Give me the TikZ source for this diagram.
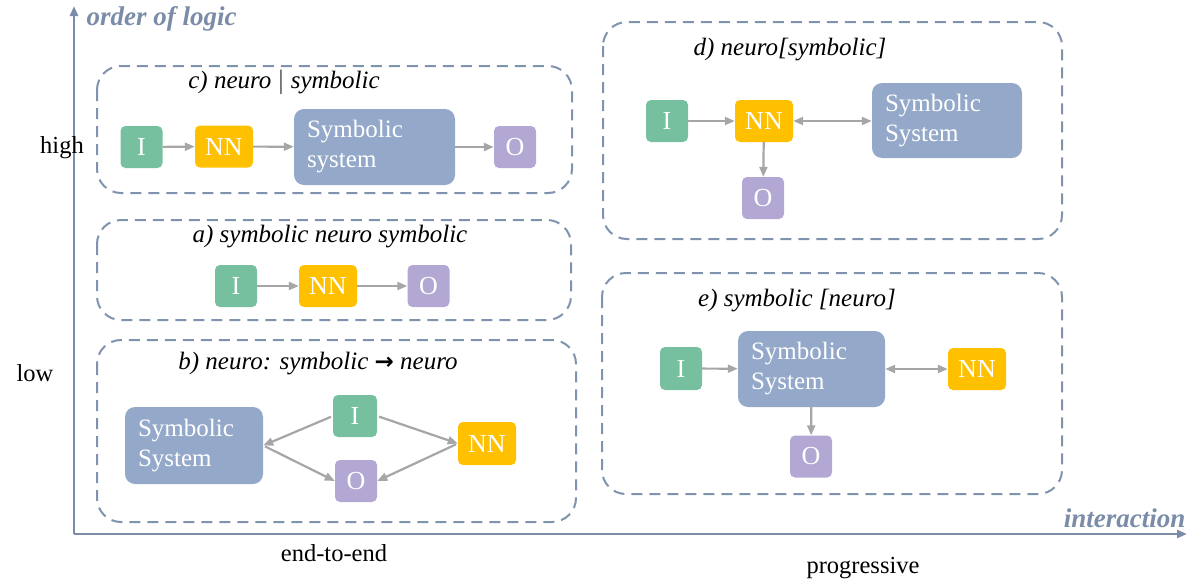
\documentclass[tikz,border=0pt]{standalone}
\usepackage{fontspec}
\setmainfont{Liberation Serif}
\newfontfamily\symfont{DejaVu Sans}
\usetikzlibrary{arrows.meta}
\definecolor{axisc}{HTML}{7A8CA8}
\definecolor{dashc}{HTML}{8093AE}
\definecolor{grn}{HTML}{76C0A0}
\definecolor{ylw}{HTML}{FFC000}
\definecolor{sysc}{HTML}{94A9C9}
\definecolor{purp}{HTML}{B3A8D3}
\definecolor{arr}{HTML}{A6A6A6}
\tikzset{
  grpbox/.style={draw=dashc, line width=2pt, dash pattern=on 11pt off 7pt, rounded corners=24pt},
  smallbox/.style={rounded corners=5pt, text=white, font=\fontsize{26}{30}\selectfont, inner sep=0pt, minimum height=42pt},
  ibox/.style={smallbox, fill=grn, minimum width=42pt},
  nnbox/.style={smallbox, fill=ylw, minimum width=58pt},
  obox/.style={smallbox, fill=purp, minimum width=42pt},
  sysbox/.style={rounded corners=10pt, fill=sysc, text=white, font=\fontsize{25}{30}\selectfont, align=left, inner sep=0pt, anchor=center},
  title/.style={font=\fontsize{25}{30}\selectfont\itshape},
  conn/.style={draw=arr, line width=2.2pt, -{Triangle[length=10pt,width=8pt]}},
  bconn/.style={draw=arr, line width=2.2pt, {Triangle[length=10pt,width=8pt]}-{Triangle[length=10pt,width=8pt]}},
  axis/.style={draw=axisc, line width=2.5pt, -{Triangle[length=10pt,width=8pt]}},
  axlabel/.style={text=axisc, font=\fontsize{27}{32}\selectfont\bfseries\itshape},
  side/.style={font=\fontsize{24.5}{29}\selectfont}
}
\begin{document}
\begin{tikzpicture}[x=1pt,y=-1pt]
\useasboundingbox (0,0) rectangle (1192,584);
% axes
\coordinate (o) at (74,534);
\coordinate (ytop) at (74,6);
\coordinate (xend) at (1187,534);
\draw[axis] (o) -- (ytop);
\draw[axis] (o) -- (xend);
\node[axlabel, anchor=west] (ylab) at (83,19) {order of logic};
\node[axlabel, anchor=east] (xlab) at (1189,518) {interaction};
\node[side] (high) at (62,148) {high};
\node[side] (low) at (35,373) {low};
\node[side] (e2e) at (334,553) {end-to-end};
\node[side] (prog) at (863,568) {progressive};

% c)
\draw[grpbox] (97,66) rectangle (572,193);
\node[title] (ct) at (284,82) {c) neuro $|$ symbolic};
\node[ibox] (cI) at (141.5,147) {I};
\node[nnbox] (cNN) at (224,146.5) {NN};
\node[sysbox, minimum width=161pt, minimum height=76pt, text width=135pt] (cS) at (374.5,147) {Symbolic\\system};
\node[obox] (cO) at (515,147) {O};
\draw[conn] (cI) -- (cNN);
\draw[conn] (cNN) -- (cS);
\draw[conn] (cS) -- (cO);

% a)
\draw[grpbox] (97,220) rectangle (571,320);
\node[title] (at) at (330,237) {a) symbolic neuro symbolic};
\node[ibox] (aI) at (236,286) {I};
\node[nnbox] (aNN) at (328,286) {NN};
\node[obox] (aO) at (428.5,286) {O};
\draw[conn] (aI) -- (aNN);
\draw[conn] (aNN) -- (aO);

% b)
\draw[grpbox] (97,340) rectangle (576,522);
\node[title] (bt) at (318,364) {b) neuro: symbolic {\upshape\symfont\bfseries\fontsize{23}{26}\selectfont →} neuro};
\node[sysbox, minimum width=138pt, minimum height=77pt, text width=112pt] (bS) at (194,445.5) {Symbolic\\System};
\node[ibox, minimum width=44pt] (bI) at (355,416) {I};
\node[nnbox, minimum height=43pt] (bNN) at (487,443.5) {NN};
\node[obox] (bO) at (356,481) {O};
\draw[conn, shorten <=2pt] (bI.west) -- (bS.east);
\draw[conn, shorten <=2pt] (bS.east) -- (bO.west);
\draw[conn, shorten <=2pt] (bI.east) -- (bNN.west);
\draw[conn, shorten <=2pt] (bNN.west) -- (bO.east);

% d)
\draw[grpbox] (603,22) rectangle (1062,239);
\node[title] (dt) at (790,50) {d) neuro[symbolic]};
\node[ibox] (dI) at (667,121) {I};
\node[nnbox] (dNN) at (764,121) {NN};
\node[sysbox, minimum width=150pt, minimum height=75pt, text width=124pt] (dS) at (947,120.5) {Symbolic\\System};
\node[obox] (dO) at (763,198) {O};
\draw[conn] (dI) -- (dNN);
\draw[bconn] (dNN.east) -- (dS.west |- dNN.east);
\draw[conn] (dNN) -- (dO);

% e)
\draw[grpbox] (602,273) rectangle (1062,494);
\node[title] (et) at (797,301) {e) symbolic [neuro]};
\node[ibox, minimum height=43pt] (eI) at (681,368.5) {I};
\node[sysbox, minimum width=147pt, minimum height=76pt, text width=121pt] (eS) at (811.5,369) {Symbolic\\System};
\node[nnbox] (eNN) at (977,369) {NN};
\node[obox] (eO) at (811,456.5) {O};
\draw[conn] (eI) -- (eS);
\draw[bconn] (eS) -- (eNN);
\draw[conn] (eS) -- (eO);
\end{tikzpicture}
\end{document}
